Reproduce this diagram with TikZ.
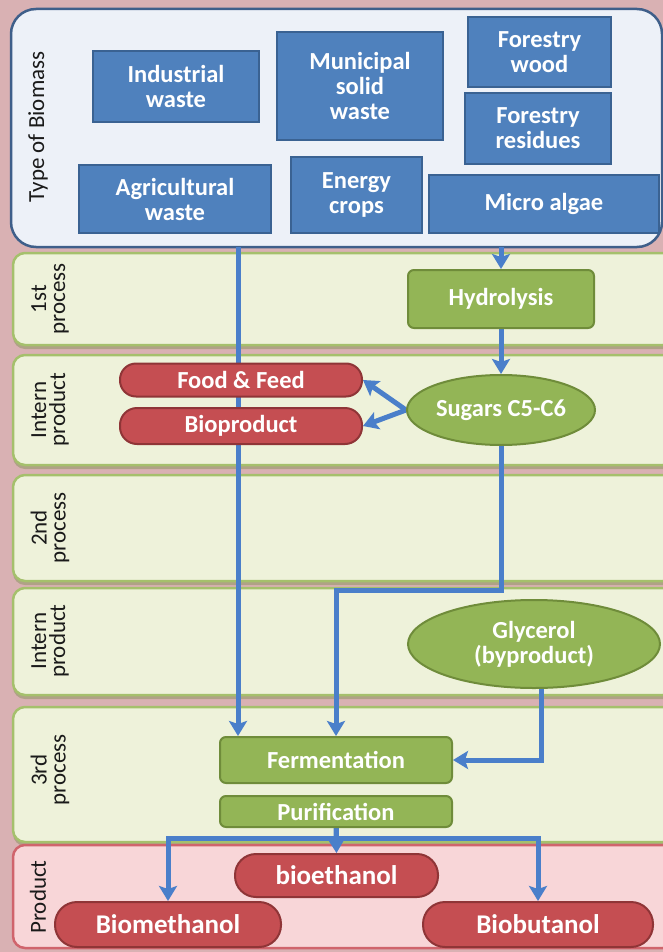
\documentclass[tikz,border=0pt]{standalone}
\usepackage{fontspec}
\setmainfont{Carlito}
\usetikzlibrary{arrows.meta,shapes.geometric,shadows}
\definecolor{bgpink}{HTML}{D9B1B3}
\definecolor{bluelanefill}{HTML}{EDF1F8}
\definecolor{bluelanedraw}{HTML}{3F5F8A}
\definecolor{lanefill}{HTML}{EEF2DA}
\definecolor{lanedraw}{HTML}{A5C06C}
\definecolor{prodfill}{HTML}{F8D6D8}
\definecolor{proddraw}{HTML}{D0646C}
\definecolor{boxblue}{HTML}{4F81BD}
\definecolor{boxblueb}{HTML}{3A6292}
\definecolor{boxgreen}{HTML}{93B556}
\definecolor{boxgreenb}{HTML}{6F8C3A}
\definecolor{boxred}{HTML}{C54E52}
\definecolor{boxredb}{HTML}{8F3537}
\definecolor{flowblue}{HTML}{4A7FCA}
\definecolor{lbltext}{HTML}{1A1A1A}
\definecolor{shadowgreen}{HTML}{7E9050}
\newcommand\bxfont{\fontsize{24.5}{25}\selectfont\bfseries}
\newcommand\pdfont{\fontsize{27}{28}\selectfont\bfseries}
\newcommand\lbfont{\fontsize{23}{19}\selectfont}
\pgfdeclarelayer{lanes}
\pgfdeclarelayer{edges}
\pgfsetlayers{lanes,edges,main}
\tikzset{
  lanebox/.style={draw=lanedraw, line width=2.5pt, fill=lanefill, rounded corners=12pt,
    minimum width=662pt, inner sep=0pt,
    drop shadow={shadow xshift=0pt, shadow yshift=-4pt, opacity=0.45, fill=shadowgreen}},
  bluebox/.style={draw=boxblueb, line width=2pt, fill=boxblue, text=white, font=\bxfont,
    align=center, inner sep=0pt},
  greenbox/.style={draw=boxgreenb, line width=2pt, fill=boxgreen, text=white, font=\bxfont,
    align=center, inner sep=0pt, rounded corners=6pt},
  greenoval/.style={ellipse, draw=boxgreenb, line width=2pt, fill=boxgreen, text=white,
    font=\bxfont, align=center, inner sep=0pt},
  redpill/.style={draw=boxredb, line width=2pt, fill=boxred, text=white,
    align=center, inner sep=0pt},
  lbl/.style={rotate=90, font=\lbfont, text=lbltext, align=center, inner sep=0pt},
  flow/.style={draw=flowblue, line width=5pt,
    -{Stealth[length=15pt, width=18pt, inset=3pt]}},
}
\begin{document}
\begin{tikzpicture}[x=1pt, y=-1pt]
\useasboundingbox (0,0) rectangle (663,952);
\clip (0,0) rectangle (663,952);

\begin{pgfonlayer}{lanes}
\fill[bgpink] (0,0) rectangle (663,952);
\node[draw=bluelanedraw, line width=2.5pt, fill=bluelanefill, rounded corners=25pt,
  minimum width=651pt, minimum height=238pt, inner sep=0pt] (biomass) at (336.5,128) {};
\node[lanebox, minimum height=92pt] (proc1) at (344,299) {};
\node[lanebox, minimum height=110pt] (inter1) at (344,410) {};
\node[lanebox, minimum height=106pt] (proc2) at (344,528) {};
\node[lanebox, minimum height=107pt] (inter2) at (344,641.5) {};
\node[lanebox, minimum height=135pt] (proc3) at (344,774.5) {};
\node[draw=proddraw, line width=2.5pt, fill=prodfill, rounded corners=12pt,
  minimum width=662pt, minimum height=103pt, inner sep=0pt] (prodlane) at (344,896.5) {};
\end{pgfonlayer}

% lane labels
\node[lbl] (lb0) at (38,127) {Type of Biomass};
\node[lbl] (lb1) at (50,299) {1st\\process};
\node[lbl] (lb2) at (50,410) {Intern\\product};
\node[lbl] (lb3) at (50,528) {2nd\\process};
\node[lbl] (lb4) at (50,641) {Intern\\product};
\node[lbl] (lb5) at (50,770) {3rd\\process};
\node[lbl] (lb6) at (38,897) {Product};

% biomass types
\node[bluebox, minimum width=166pt, minimum height=71pt] (ind) at (176,86.5) {Industrial\\waste};
\node[bluebox, minimum width=166pt, minimum height=108pt] (mun) at (360,86) {Municipal\\solid\\waste};
\node[bluebox, minimum width=143pt, minimum height=70pt] (fwood) at (539.5,52) {Forestry\\wood};
\node[bluebox, minimum width=146pt, minimum height=71pt] (fres) at (538,128.5) {Forestry\\residues};
\node[bluebox, minimum width=192pt, minimum height=68pt] (agri) at (175,199) {Agricultural\\waste};
\node[bluebox, minimum width=131pt, minimum height=76pt] (energy) at (356.5,195) {Energy\\crops};
\node[bluebox, minimum width=230pt, minimum height=58pt] (micro) at (544,204) {Micro algae};

% processes and products
\node[greenbox, minimum width=186pt, minimum height=58pt] (hyd) at (501,299) {Hydrolysis};
\node[greenoval, minimum width=188pt, minimum height=70pt] (sug) at (501,410) {Sugars C5-C6};
\node[redpill, font=\bxfont, rounded corners=16pt, minimum width=242pt, minimum height=33pt] (food) at (241,380) {Food \& Feed};
\node[redpill, font=\bxfont, rounded corners=17pt, minimum width=242pt, minimum height=36pt] (bio) at (241,426) {Bioproduct};
\node[greenoval, minimum width=252pt, minimum height=88pt] (gly) at (534,644) {Glycerol\\(byproduct)};
\node[greenbox, minimum width=232pt, minimum height=46pt] (ferm) at (336,760) {Fermentation};
\node[greenbox, minimum width=232pt, minimum height=31pt] (pur) at (336,811.5) {Purification};
\node[redpill, font=\pdfont, rounded corners=21pt, minimum width=203pt, minimum height=43pt] (beth) at (336.5,875.5) {bioethanol};
\node[redpill, font=\pdfont, rounded corners=22pt, minimum width=226pt, minimum height=45pt] (bmeth) at (168,924.5) {Biomethanol};
\node[redpill, font=\pdfont, rounded corners=22pt, minimum width=230pt, minimum height=45pt] (bbut) at (538,924.5) {Biobutanol};

\coordinate (lstart) at (238,247);
\coordinate (rstart) at (501,247);

\begin{pgfonlayer}{edges}
\draw[flow] (lstart) -- (lstart |- ferm.north);
\draw[flow] (rstart) -- (hyd.north);
\draw[flow] (hyd.south) -- (sug.north);
\draw[flow] (sug.west) -- (food.east);
\draw[flow] (sug.west) -- (bio.east);
\draw[flow] (sug.south) -- ++(0,144) -| (ferm.north);
\draw[flow] ([xshift=7pt]gly.south) |- (ferm.east);
\draw[flow] (pur.south) -- ++(0,10) -| (bmeth.north);
\draw[flow] (pur.south) -- ++(0,10) -| (bbut.north);
\draw[flow] (pur.south) -- (beth.north);
\end{pgfonlayer}
\end{tikzpicture}
\end{document}
